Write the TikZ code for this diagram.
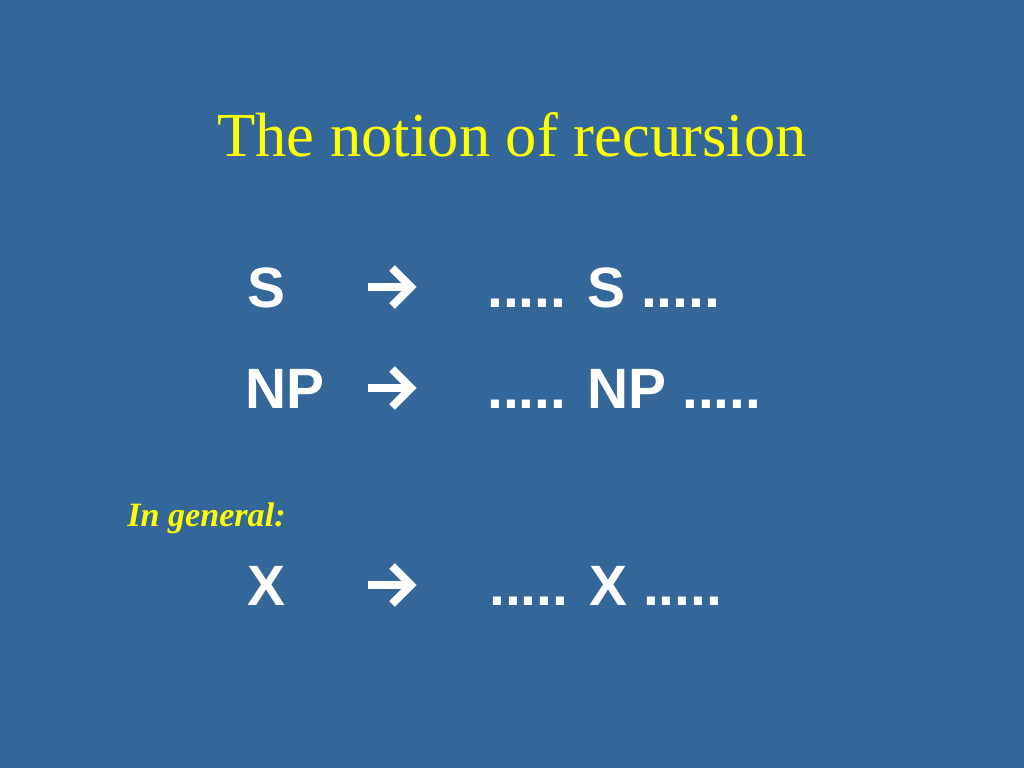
\documentclass[tikz,border=0pt]{standalone}
\usepackage{fontspec}
\setmainfont{Liberation Serif}
\newfontfamily\arialfont{Liberation Sans}
\definecolor{slidebg}{HTML}{336699}
\definecolor{slideyellow}{HTML}{FFFF00}
\tikzset{
  px/.style={x=0.703125pt,y=-0.703125pt},
  titletext/.style={inner sep=0pt,anchor=base,text=slideyellow,font=\fontsize{44}{50}\selectfont},
  ruletext/.style={inner sep=0pt,anchor=base west,text=white,font=\arialfont\bfseries\fontsize{40}{46}\selectfont},
  notetext/.style={inner sep=0pt,anchor=base west,text=slideyellow,font=\bfseries\itshape\fontsize{24}{28}\selectfont},
  arrowshaft/.style={draw=white,line width=6.3pt},
  arrowhead/.style={draw=white,line width=5.6pt,miter limit=10}
}
\begin{document}
\begin{tikzpicture}[px]
\fill[slidebg] (0,0) rectangle (1024,768);
\useasboundingbox (0,0) rectangle (1024,768);
\node[titletext] (title) at (512,157) {The notion of recursion};
% row 1
\node[ruletext] (s1) at (247,307) {S};
\coordinate (a1) at (368,287);
\draw[arrowshaft] (a1) -- ++(40,0);
\draw[arrowhead] ([shift={(24,-19)}]a1) -- ++(19,19) -- ++(-19,19);
\node[ruletext] (r1) at (487,307) {..... S .....};
% row 2
\node[ruletext] (s2) at (245,408) {NP};
\coordinate (a2) at (368,388);
\draw[arrowshaft] (a2) -- ++(40,0);
\draw[arrowhead] ([shift={(24,-19)}]a2) -- ++(19,19) -- ++(-19,19);
\node[ruletext] (r2) at (487,408) {..... NP .....};
% note
\node[notetext] (note) at (127,526) {In general:};
% row 3
\node[ruletext] (s3) at (247,605) {X};
\coordinate (a3) at (368,585);
\draw[arrowshaft] (a3) -- ++(40,0);
\draw[arrowhead] ([shift={(24,-19)}]a3) -- ++(19,19) -- ++(-19,19);
\node[ruletext] (r3) at (489,605) {..... X .....};
\end{tikzpicture}
\end{document}
